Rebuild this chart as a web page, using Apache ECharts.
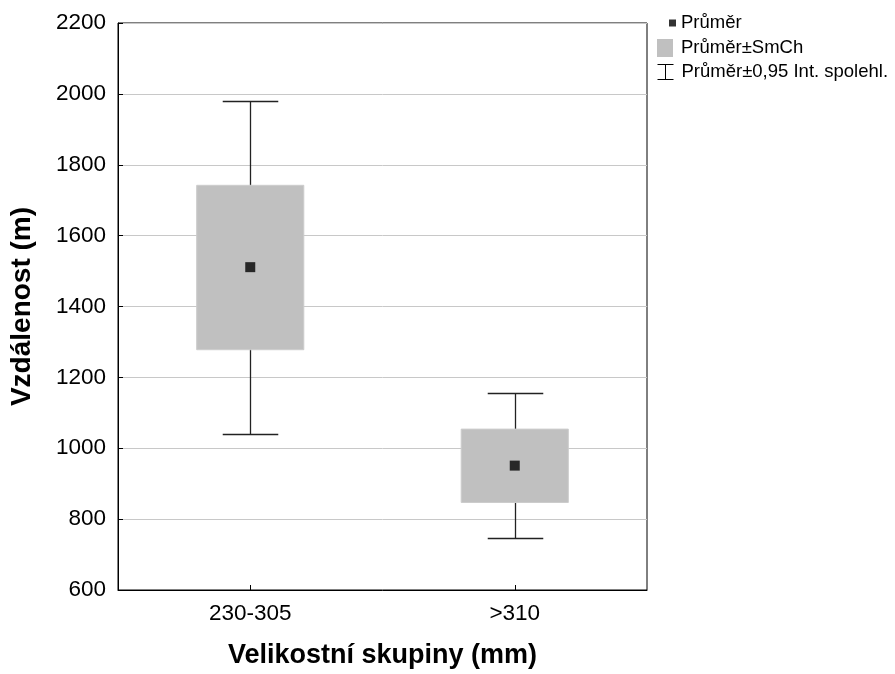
<!DOCTYPE html>
<html>
<head>
<meta charset="utf-8">
<script src="https://cdn.jsdelivr.net/npm/echarts@6/dist/echarts.min.js"></script>
<style>
  html, body { margin: 0; padding: 0; background: #fff; }
  #chart { width: 895px; height: 674px; }
</style>
</head>
<body>
<div id="chart"></div>
<script>
// Size groups and their summary statistics
const categories = ['230-305', '>310'];
const meanValues = [1511, 951];
const seLow = [1278, 847];        // mean - standard error
const seHigh = [1742, 1054];      // mean + standard error
const ciLow = [1041, 746];        // mean - 0.95 confidence interval
const ciHigh = [1981, 1156];      // mean + 0.95 confidence interval
const yTicks = { min: 600, max: 2200, step: 200 };

const FONT = '"Liberation Sans", Arial, sans-serif';
const NAME_MEAN = 'Průměr';
const NAME_SE = 'Průměr±SmCh';
const NAME_CI = 'Průměr±0,95 Int. spolehl.';

const chart = echarts.init(document.getElementById('chart'), null, { renderer: 'canvas' });

const boxData = categories.map((c, i) => [i, seLow[i], seHigh[i]]);
const ciData = categories.map((c, i) => [i, ciLow[i], ciHigh[i]]);
const meanData = categories.map((c, i) => [i, meanValues[i]]);

function renderBox(params, api) {
  const x = api.value(0);
  const lo = api.coord([x, api.value(1)]);
  const hi = api.coord([x, api.value(2)]);
  const band = api.size([1, 0])[0];
  const w = band * 0.405;
  return {
    type: 'rect',
    shape: { x: lo[0] - w / 2, y: hi[1], width: w, height: lo[1] - hi[1] },
    style: { fill: '#c0c0c0', stroke: '#cccccc', lineWidth: 1 }
  };
}

function renderWhisker(params, api) {
  const x = api.value(0);
  const lo = api.coord([x, api.value(1)]);
  const hi = api.coord([x, api.value(2)]);
  const band = api.size([1, 0])[0];
  const half = band * 0.105;
  const cx = Math.round(lo[0]) + 0.5;
  const yl = Math.round(lo[1]) + 0.5;
  const yh = Math.round(hi[1]) + 0.5;
  const st = { stroke: '#222', lineWidth: 1.3 };
  return {
    type: 'group',
    children: [
      { type: 'line', shape: { x1: cx, y1: yl, x2: cx, y2: yh }, style: st },
      { type: 'line', shape: { x1: cx - half, y1: yh, x2: cx + half, y2: yh }, style: st },
      { type: 'line', shape: { x1: cx - half, y1: yl, x2: cx + half, y2: yl }, style: st }
    ]
  };
}

const legendText = { fontFamily: FONT, fontSize: 18.5, color: '#000', lineHeight: 20 };

chart.setOption({
  animation: false,
  backgroundColor: '#fff',
  textStyle: { fontFamily: FONT },
  grid: {
    left: 116, right: 248, top: 23, bottom: 82,
    show: true, borderColor: '#000', borderWidth: 1, backgroundColor: 'transparent'
  },
  legend: [
    {
      data: [{ name: NAME_MEAN, icon: 'rect', itemStyle: { color: '#000' } }],
      left: 669, top: 13, padding: 0,
      itemWidth: 7, itemHeight: 7,
      textStyle: legendText, selectedMode: false
    },
    {
      data: [{ name: NAME_SE, icon: 'rect', itemStyle: { color: '#c0c0c0', borderWidth: 0 } }],
      left: 657, top: 38, padding: 0,
      itemWidth: 16, itemHeight: 18,
      textStyle: Object.assign({}, legendText, { padding: [0, 0, 0, 3] }), selectedMode: false
    },
    {
      data: [{
        name: NAME_CI,
        icon: 'path://M0,0H16M8,0V15M0,15H16',
        itemStyle: { color: 'rgba(0,0,0,0)', borderColor: '#000', borderWidth: 1 }
      }],
      left: 657, top: 62, padding: 0,
      itemWidth: 16, itemHeight: 15,
      textStyle: Object.assign({}, legendText, { padding: [0, 0, 0, 3] }), selectedMode: false
    }
  ],
  xAxis: {
    type: 'category',
    data: categories,
    boundaryGap: true,
    name: 'Velikostní skupiny (mm)',
    nameLocation: 'middle',
    nameGap: 52,
    nameTextStyle: { fontFamily: FONT, fontSize: 27, fontWeight: 'bold', color: '#000' },
    axisLine: { lineStyle: { color: '#000', width: 1 } },
    axisTick: { show: true, inside: true, alignWithLabel: true, length: 5, lineStyle: { color: '#000' } },
    axisLabel: { fontFamily: FONT, fontSize: 22.5, color: '#000', margin: 12 },
    splitLine: { show: false }
  },
  yAxis: {
    type: 'value',
    min: yTicks.min, max: yTicks.max, interval: yTicks.step,
    name: 'Vzdálenost (m)',
    nameLocation: 'middle',
    nameGap: 82,
    nameTextStyle: { fontFamily: FONT, fontSize: 28, fontWeight: 'bold', color: '#000' },
    axisLine: { show: true, lineStyle: { color: '#000', width: 1 } },
    axisTick: { show: true, inside: true, length: 5, lineStyle: { color: '#000' } },
    axisLabel: {
      fontFamily: FONT, fontSize: 22.5, color: '#000', margin: 12,
      formatter: v => String(v)
    },
    splitLine: { show: true, lineStyle: { color: '#c8c8c8', width: 1 } }
  },
  series: [
    {
      name: NAME_CI,
      type: 'custom',
      renderItem: renderWhisker,
      data: ciData,
      encode: { x: 0, y: [1, 2] },
      z: 2
    },
    {
      name: NAME_SE,
      type: 'custom',
      renderItem: renderBox,
      data: boxData,
      encode: { x: 0, y: [1, 2] },
      z: 3
    },
    {
      name: NAME_MEAN,
      type: 'scatter',
      symbol: 'rect',
      symbolSize: 10,
      data: meanData,
      itemStyle: { color: '#000' },
      z: 4
    }
  ]
});
</script>
</body>
</html>
